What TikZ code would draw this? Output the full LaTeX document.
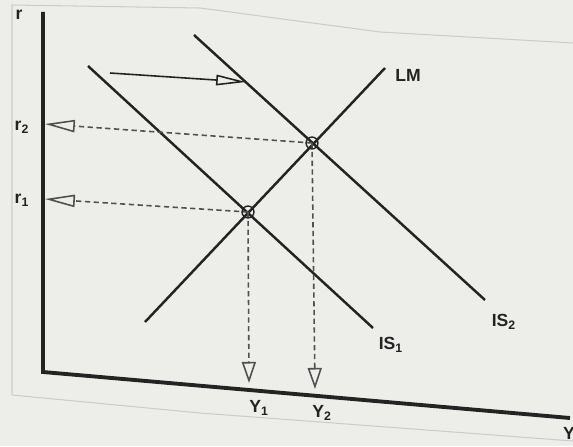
\documentclass[tikz,border=0pt]{standalone}
\usepackage{fontspec}
\setmainfont{Liberation Sans}
\usetikzlibrary{arrows.meta}
\definecolor{paper}{RGB}{237,237,234}
\definecolor{ink}{RGB}{35,35,35}
\definecolor{guide}{RGB}{80,80,80}
\tikzset{
  curve/.style={ink, line width=1.4pt},
  guideline/.style={guide, dash pattern=on 3pt off 2pt, line width=0.9pt},
  lbl/.style={font=\bfseries\normalsize, text=ink, inner sep=0pt},
}

\begin{document}
\begin{tikzpicture}[x=0.02cm, y=-0.02cm]
        \useasboundingbox[fill=paper] (0,0) rectangle (573,446);
        % faint frame of the printed figure
        \draw[gray!40, line width=0.6pt] (12,395) -- (12,5) -- (200,8) -- (380,32) -- (573,43);
        \draw[gray!40, line width=0.6pt] (12,395) -- (200,413) -- (573,441);
        % axes
        \coordinate (top) at (43,12);
        \coordinate (O) at (43,372);
        \coordinate (right) at (570,418);
        \draw[ink, line width=2.2pt] (top) -- (O) -- (right);
        % IS and LM curves
        \coordinate (is1a) at (88,66);   \coordinate (is1b) at (373,328);
        \coordinate (is2a) at (194,35);  \coordinate (is2b) at (485,300);
        \coordinate (lma) at (145,322);  \coordinate (lmb) at (385,68);
        \draw[curve] (is1a) -- (is1b);
        \draw[curve] (is2a) -- (is2b);
        \draw[curve] (lma) -- (lmb);
        % equilibria
        \coordinate (E1) at (248,212);
        \coordinate (E2) at (312,143);
        \foreach \e in {E1,E2}
            \draw[ink, line width=0.8pt] (\e) circle[radius=3.4pt];
        % dashed guides to the axes
        \coordinate (r1tip) at (45,199);
        \coordinate (r2tip) at (45,124);
        \coordinate (y1tip) at (249,383);
        \coordinate (y2tip) at (315,389);
        \foreach \e/\tip in {E1/r1tip, E2/r2tip}
            \draw[guideline, -{Triangle[open, length=17pt, width=7pt]}] (\e) -- (\tip);
        \foreach \e/\tip in {E1/y1tip, E2/y2tip}
            \draw[guideline, -{Triangle[open, length=12pt, width=8pt]}] (\e) -- (\tip);
        % shift of IS
        \coordinate (s0) at (110,73);
        \coordinate (s1) at (246,82);
        \draw[ink, line width=0.9pt, -{Triangle[open, length=17pt, width=6pt]}] (s0) -- (s1);
        % labels
        \node[lbl] (rlab) at (19,15) {r};
        \node[lbl] (r2lab) at (22,127) {r\textsubscript{2}};
        \node[lbl] (r1lab) at (22,200) {r\textsubscript{1}};
        \node[lbl] (lmlab) at (408,75) {LM};
        \node[lbl] (is1lab) at (391,345) {IS\textsubscript{1}};
        \node[lbl] (is2lab) at (504,322) {IS\textsubscript{2}};
        \node[lbl] (y1lab) at (259,408) {Y\textsubscript{1}};
        \node[lbl] (y2lab) at (322,413) {Y\textsubscript{2}};
        \node[lbl] (ylab) at (569,433) {Y};
\end{tikzpicture}
\end{document}
